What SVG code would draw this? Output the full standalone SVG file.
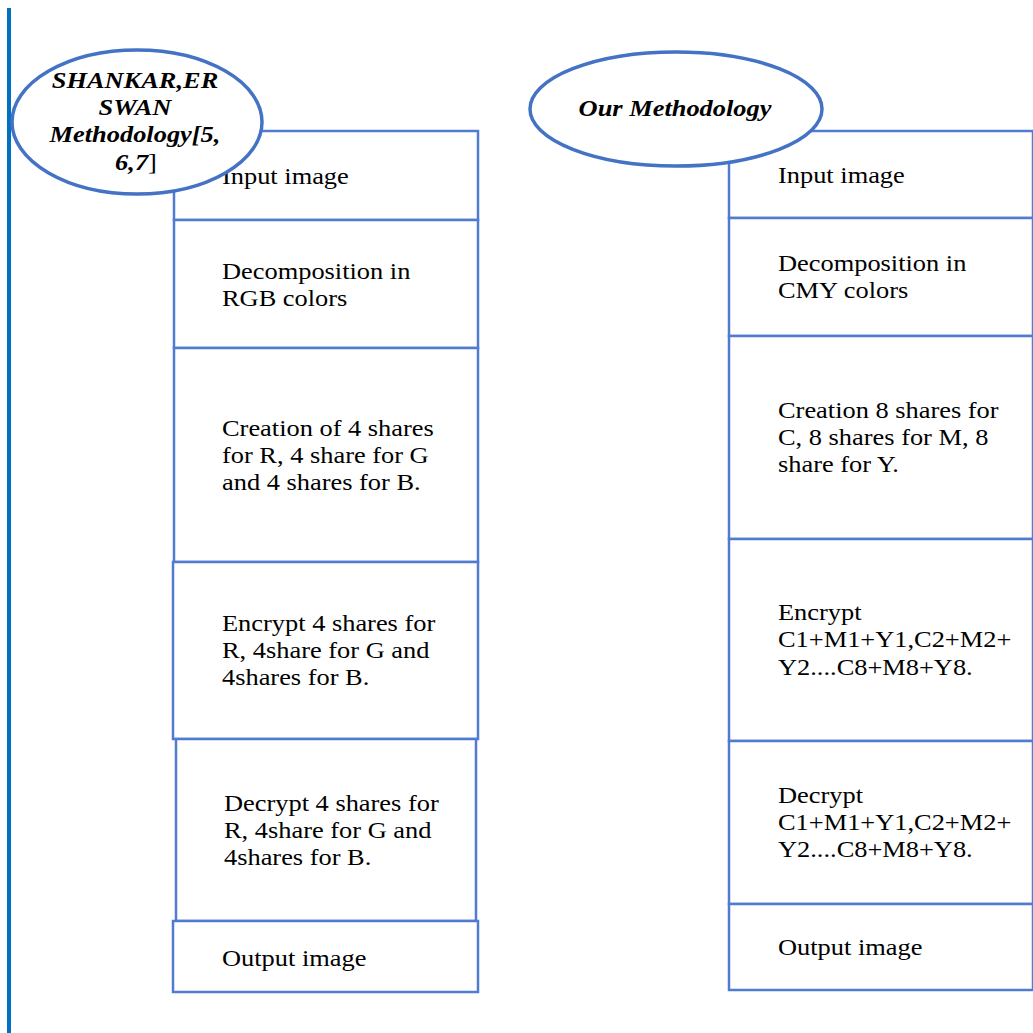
<svg xmlns="http://www.w3.org/2000/svg" width="1033" height="1033" viewBox="0 0 1033 1033">
<style>
.box{fill:#fff;stroke:#4F7BD0;stroke-width:2.5}
.ell{fill:#fff;stroke:#4472C4;stroke-width:3.5}
.t{font-family:"Liberation Serif","Times New Roman",serif;font-size:24px;fill:#000}
.h{font-family:"Liberation Serif","Times New Roman",serif;font-size:24px;font-weight:bold;font-style:italic;fill:#000;text-anchor:middle}
</style>
<rect x="0" y="0" width="1033" height="1033" fill="#fff"/>
<rect id="leftbar" x="7" y="8" width="4" height="1025" fill="#0070C0"/>
<g id="connectors"></g>
<g id="left-column">
<g id="l-input"><rect class="box" x="174" y="131" width="304" height="89"/><text class="t" transform="translate(222,184) scale(1.1,1)">Input image</text></g>
<g id="l-decomp"><rect class="box" x="174" y="220" width="304" height="128"/><text class="t" transform="translate(222,279) scale(1.1,1)">Decomposition in</text><text class="t" transform="translate(222,306) scale(1.1,1)">RGB colors</text></g>
<g id="l-create"><rect class="box" x="174" y="348" width="304" height="214"/><text class="t" transform="translate(222,436) scale(1.1,1)">Creation of 4 shares</text><text class="t" transform="translate(222,463) scale(1.1,1)">for R, 4 share for G</text><text class="t" transform="translate(222,490) scale(1.1,1)">and 4 shares for B.</text></g>
<g id="l-encrypt"><rect class="box" x="173" y="562" width="305" height="177"/><text class="t" transform="translate(222,631) scale(1.1,1)">Encrypt 4 shares for</text><text class="t" transform="translate(222,658) scale(1.1,1)">R, 4share for G and</text><text class="t" transform="translate(222,685) scale(1.1,1)">4shares for B.</text></g>
<g id="l-decrypt"><rect class="box" x="176" y="739" width="300" height="182"/><text class="t" transform="translate(224,811) scale(1.1,1)">Decrypt 4 shares for</text><text class="t" transform="translate(224,838) scale(1.1,1)">R, 4share for G and</text><text class="t" transform="translate(224,865) scale(1.1,1)">4shares for B.</text></g>
<g id="l-output"><rect class="box" x="173" y="921" width="305" height="71"/><text class="t" transform="translate(222,966) scale(1.1,1)">Output image</text></g>
<g id="l-title"><ellipse class="ell" cx="137" cy="122" rx="125" ry="72"/>
<text class="h" transform="translate(135,88) scale(1.1,1)">SHANKAR,ER</text>
<text class="h" transform="translate(135,115) scale(1.1,1)">SWAN</text>
<text class="h" transform="translate(135,142) scale(1.1,1)">Methodology[5,</text>
<text class="h" transform="translate(136,170) scale(1.1,1)">6,7<tspan font-weight="normal" font-style="normal">]</tspan></text></g>
</g>
<g id="right-column">
<g id="r-input"><rect class="box" x="729" y="131" width="304" height="87"/><text class="t" transform="translate(778,183) scale(1.1,1)">Input image</text></g>
<g id="r-decomp"><rect class="box" x="729" y="218" width="304" height="118"/><text class="t" transform="translate(778,271) scale(1.1,1)">Decomposition in</text><text class="t" transform="translate(778,298) scale(1.1,1)">CMY colors</text></g>
<g id="r-create"><rect class="box" x="729" y="336" width="304" height="203"/><text class="t" transform="translate(778,418) scale(1.1,1)">Creation 8 shares for</text><text class="t" transform="translate(778,445) scale(1.1,1)">C, 8 shares for M, 8</text><text class="t" transform="translate(778,472) scale(1.1,1)">share for Y.</text></g>
<g id="r-encrypt"><rect class="box" x="729" y="539" width="304" height="202"/><text class="t" transform="translate(778,620) scale(1.1,1)">Encrypt</text><text class="t" transform="translate(778,647) scale(1.1,1)">C1+M1+Y1,C2+M2+</text><text class="t" transform="translate(778,675) scale(1.1,1)">Y2....C8+M8+Y8.</text></g>
<g id="r-decrypt"><rect class="box" x="729" y="741" width="304" height="163"/><text class="t" transform="translate(778,803) scale(1.1,1)">Decrypt</text><text class="t" transform="translate(778,830) scale(1.1,1)">C1+M1+Y1,C2+M2+</text><text class="t" transform="translate(778,857) scale(1.1,1)">Y2....C8+M8+Y8.</text></g>
<g id="r-output"><rect class="box" x="729" y="904" width="304" height="86"/><text class="t" transform="translate(778,955) scale(1.1,1)">Output image</text></g>
<g id="r-title"><ellipse class="ell" cx="676" cy="109" rx="146" ry="57"/>
<text class="h" transform="translate(675,116) scale(1.1,1)">Our Methodology</text></g>
</g>
</svg>
